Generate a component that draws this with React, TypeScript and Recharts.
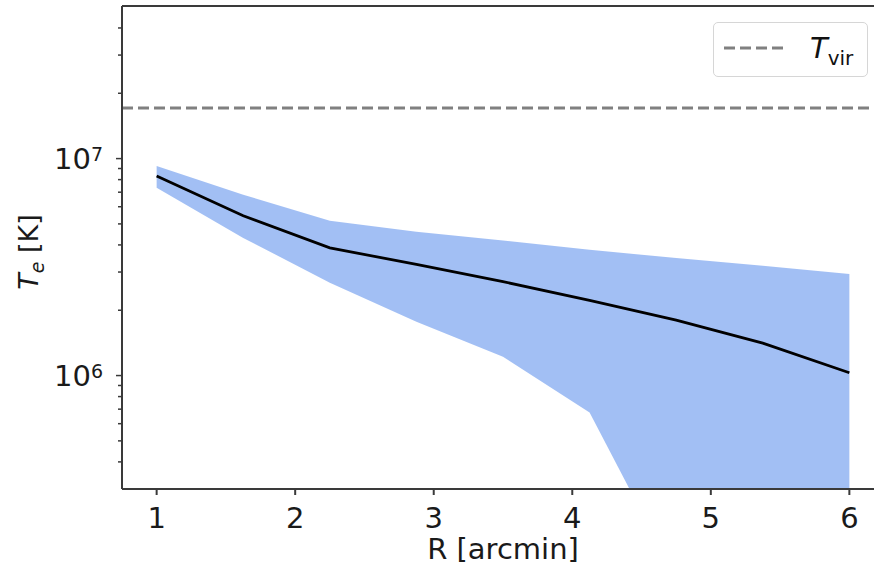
import React from 'react';
import { ComposedChart, Area, Line, XAxis, YAxis, ReferenceLine } from 'recharts';

// radius grid (arcmin) and temperature profile (K)
const radius = [1, 1.625, 2.25, 2.875, 3.5, 4.125, 4.75, 5.375, 6];
const tempMean = [8.32e6, 5.45e6, 3.88e6, 3.25e6, 2.71e6, 2.22e6, 1.8e6, 1.41e6, 1.03e6];
const tempUpper = [9.25e6, 6.81e6, 5.17e6, 4.6e6, 4.19e6, 3.8e6, 3.48e6, 3.21e6, 2.94e6];
const tempLower = [7.33e6, 4.31e6, 2.68e6, 1.77e6, 1.22e6, 6.76e5, 1.16e5, 8e4, 5e4];

const T_VIR = 1.71e7;
const Y_MIN = 3e5;
const Y_MAX = 5.05e7;

const xTicks = [1, 2, 3, 4, 5, 6];
const yTicks = [
  4e5, 5e5, 6e5, 7e5, 8e5, 9e5, 1e6,
  2e6, 3e6, 4e6, 5e6, 6e6, 7e6, 8e6, 9e6, 1e7,
  2e7, 3e7, 4e7,
];

const FONT = '"DejaVu Sans", sans-serif';
const SPINE = '#3a3a3a';

const data = radius.map((r, i) => ({
  r,
  mean: tempMean[i],
  band: [tempLower[i], tempUpper[i]],
}));

const YTick = ({ x, y, payload }: any) => {
  const v = payload.value;
  const exp = Math.round(Math.log10(v));
  const major = Math.abs(v / Math.pow(10, exp) - 1) < 1e-6;
  return (
    <g>
      <line x1={x - (major ? 6 : 4)} x2={x} y1={y} y2={y} stroke={SPINE} strokeWidth={1.5} />
      {major && (
        <text x={x - 19} y={y + 10.5} textAnchor="end" fontFamily={FONT} fontSize={29} fill="#1a1a1a">
          <tspan>10</tspan>
          <tspan dy={-8} fontSize={19}>{exp}</tspan>
        </text>
      )}
    </g>
  );
};

// legend drawn as an overlay so it doesn't eat into the plot area
const LegendBox = () => (
  <div
    style={{
      position: 'absolute',
      left: 713,
      top: 22,
      width: 155,
      height: 55,
      border: '1px solid #d6d6d6',
      borderRadius: 5,
      background: 'rgba(255,255,255,0.8)',
      boxSizing: 'border-box',
      fontFamily: FONT,
    }}
  >
    <svg width={64} height={10} style={{ position: 'absolute', left: 10, top: 20 }}>
      <line x1={0} x2={60} y1={5} y2={5} stroke="#808080" strokeWidth={3} strokeDasharray="11 5" />
    </svg>
    <span style={{ position: 'absolute', left: 96, top: 8, fontSize: 29, fontStyle: 'italic', color: '#111', whiteSpace: 'nowrap' }}>
      T
      <span style={{ fontSize: 20, fontStyle: 'normal', position: 'relative', top: 7 }}>vir</span>
    </span>
  </div>
);

export default function App() {
  return (
    <div
      style={{
        position: 'fixed',
        left: 0,
        top: 0,
        width: 874,
        height: 573,
        overflow: 'hidden',
        background: '#fff',
      }}
    >
      <ComposedChart
        width={900}
        height={573}
        data={data}
        margin={{ top: 6, right: 16, bottom: 0, left: 0 }}
      >
        <XAxis
          dataKey="r"
          type="number"
          domain={[0.75, 6.25]}
          ticks={xTicks}
          allowDataOverflow
          height={84}
          stroke={SPINE}
          strokeWidth={2}
          tickSize={6}
          tickMargin={12}
          tick={{ fontSize: 29, fill: '#1a1a1a', fontFamily: FONT }}
          label={{
            value: 'R [arcmin]',
            position: 'insideBottom',
            offset: 14,
            fontSize: 29,
            fill: '#1a1a1a',
            fontFamily: FONT,
          }}
        />
        <YAxis
          type="number"
          scale="log"
          domain={[Y_MIN, Y_MAX]}
          ticks={yTicks}
          allowDataOverflow
          interval={0}
          width={122}
          stroke={SPINE}
          strokeWidth={2}
          tickLine={false}
          tickSize={0}
          tickMargin={0}
          tick={<YTick />}
          label={{
            value: 'T',
            content: () => (
              <text
                transform="translate(38,252) rotate(-90)"
                textAnchor="middle"
                fontFamily={FONT}
                fontSize={27}
                fill="#1a1a1a"
              >
                <tspan fontStyle="italic">T</tspan>
                <tspan fontStyle="italic" fontSize={19} dy={6}>e</tspan>
                <tspan dy={-6}> [K]</tspan>
              </text>
            ),
          }}
        />
        <Area
          dataKey="band"
          type="linear"
          stroke="none"
          fill="#6495ED"
          fillOpacity={0.6}
          isAnimationActive={false}
        />
        <Line
          dataKey="mean"
          type="linear"
          stroke="#000"
          strokeWidth={2.8}
          dot={false}
          isAnimationActive={false}
        />
        <ReferenceLine y={T_VIR} stroke="#808080" strokeWidth={3} strokeDasharray="11 5" />
        {/* top spine */}
        <ReferenceLine y={Y_MAX} stroke={SPINE} strokeWidth={2} />
      </ComposedChart>
      <LegendBox />
    </div>
  );
}
